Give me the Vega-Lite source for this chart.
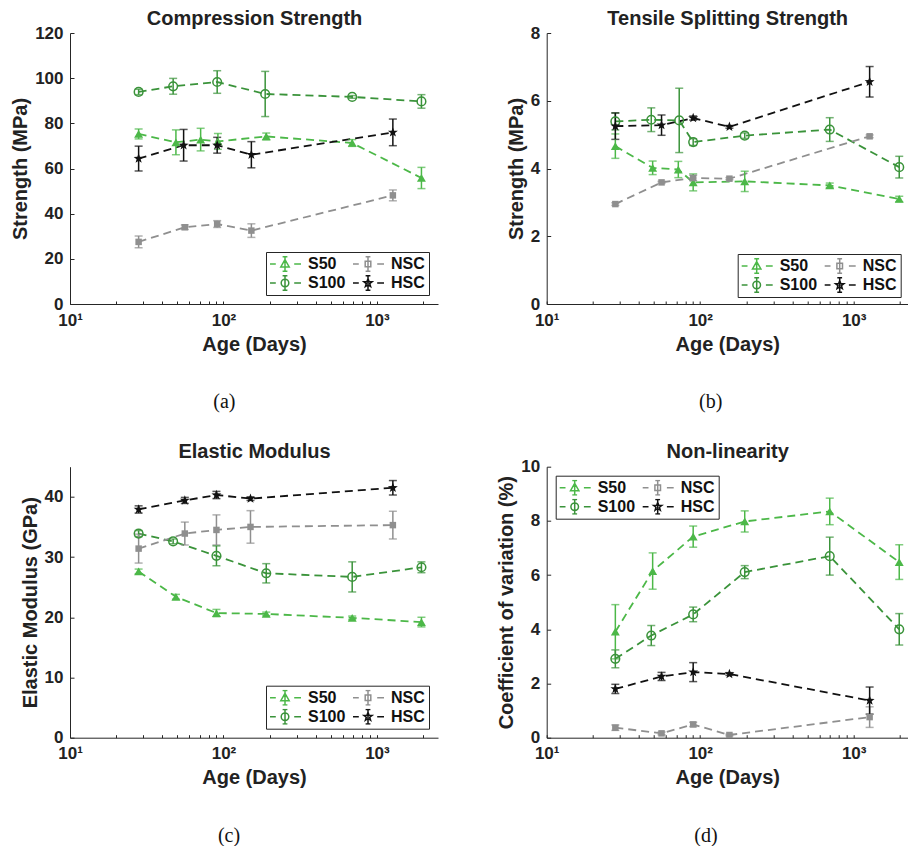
{
  "$schema": "https://vega.github.io/schema/vega-lite/v6.json",
  "padding": {"left": 10, "top": 8, "right": 0, "bottom": 0},
  "columns": 2,
  "spacing": {"row": 162.7, "column": 108.7},
  "bounds": "flush",
  "datasets": {
    "comp": [
      {"s": "S50", "t": 28, "v": 75.3, "e": 2.2}, {"s": "S50", "t": 49, "v": 71.6, "e": 5.5}, {"s": "S50", "t": 71, "v": 72.8, "e": 5.0}, {"s": "S50", "t": 92, "v": 72.0, "e": 3.5}, {"s": "S50", "t": 190, "v": 74.2, "e": 1.5}, {"s": "S50", "t": 690, "v": 71.3, "e": 1.5}, {"s": "S50", "t": 1950, "v": 55.8, "e": 4.7},
      {"s": "S100", "t": 28, "v": 93.9, "e": 1.2}, {"s": "S100", "t": 47, "v": 96.4, "e": 3.5}, {"s": "S100", "t": 91, "v": 98.3, "e": 5.0}, {"s": "S100", "t": 187, "v": 93.0, "e": 10.0}, {"s": "S100", "t": 690, "v": 91.7, "e": 0.6}, {"s": "S100", "t": 1950, "v": 89.7, "e": 3.0},
      {"s": "NSC", "t": 28, "v": 27.5, "e": 2.6}, {"s": "NSC", "t": 56, "v": 34.0, "e": 1.0}, {"s": "NSC", "t": 91, "v": 35.4, "e": 1.5}, {"s": "NSC", "t": 152, "v": 32.5, "e": 3.0}, {"s": "NSC", "t": 1270, "v": 48.1, "e": 2.4},
      {"s": "HSC", "t": 28, "v": 64.4, "e": 5.5}, {"s": "HSC", "t": 55, "v": 70.3, "e": 7.0}, {"s": "HSC", "t": 91, "v": 70.3, "e": 3.5}, {"s": "HSC", "t": 152, "v": 66.1, "e": 5.8}, {"s": "HSC", "t": 1270, "v": 76.0, "e": 5.9}
    ],
    "tens": [
      {"s": "S50", "t": 28, "v": 4.66, "e": 0.36}, {"s": "S50", "t": 49, "v": 4.02, "e": 0.2}, {"s": "S50", "t": 72, "v": 3.97, "e": 0.24}, {"s": "S50", "t": 90, "v": 3.59, "e": 0.25}, {"s": "S50", "t": 195, "v": 3.62, "e": 0.3}, {"s": "S50", "t": 698, "v": 3.5, "e": 0.07}, {"s": "S50", "t": 1980, "v": 3.1, "e": 0.08},
      {"s": "S100", "t": 28, "v": 5.39, "e": 0.25}, {"s": "S100", "t": 48, "v": 5.44, "e": 0.35}, {"s": "S100", "t": 73, "v": 5.42, "e": 0.95}, {"s": "S100", "t": 90, "v": 4.78, "e": 0.1}, {"s": "S100", "t": 195, "v": 4.97, "e": 0.08}, {"s": "S100", "t": 698, "v": 5.15, "e": 0.35}, {"s": "S100", "t": 1980, "v": 4.04, "e": 0.32},
      {"s": "NSC", "t": 28, "v": 2.95, "e": 0.04}, {"s": "NSC", "t": 56, "v": 3.59, "e": 0.03}, {"s": "NSC", "t": 90, "v": 3.72, "e": 0.08}, {"s": "NSC", "t": 155, "v": 3.7, "e": 0.03}, {"s": "NSC", "t": 1270, "v": 4.95, "e": 0.04},
      {"s": "HSC", "t": 28, "v": 5.25, "e": 0.39}, {"s": "HSC", "t": 56, "v": 5.28, "e": 0.3}, {"s": "HSC", "t": 90, "v": 5.49, "e": 0.06}, {"s": "HSC", "t": 155, "v": 5.23, "e": 0.04}, {"s": "HSC", "t": 1270, "v": 6.56, "e": 0.45}
    ],
    "elas": [
      {"s": "S50", "t": 28, "v": 27.6, "e": 0.4}, {"s": "S50", "t": 49, "v": 23.4, "e": 0.4}, {"s": "S50", "t": 90, "v": 20.7, "e": 0.6}, {"s": "S50", "t": 190, "v": 20.55, "e": 0.3}, {"s": "S50", "t": 690, "v": 19.9, "e": 0.3}, {"s": "S50", "t": 1950, "v": 19.2, "e": 0.8},
      {"s": "S100", "t": 28, "v": 33.9, "e": 0.5}, {"s": "S100", "t": 47, "v": 32.6, "e": 0.4}, {"s": "S100", "t": 90, "v": 30.2, "e": 1.65}, {"s": "S100", "t": 190, "v": 27.3, "e": 1.6}, {"s": "S100", "t": 690, "v": 26.7, "e": 2.5}, {"s": "S100", "t": 1950, "v": 28.3, "e": 0.9},
      {"s": "NSC", "t": 28, "v": 31.4, "e": 2.4}, {"s": "NSC", "t": 56, "v": 33.9, "e": 1.9}, {"s": "NSC", "t": 90, "v": 34.5, "e": 2.5}, {"s": "NSC", "t": 150, "v": 35.0, "e": 2.7}, {"s": "NSC", "t": 1270, "v": 35.3, "e": 2.3},
      {"s": "HSC", "t": 28, "v": 37.9, "e": 0.6}, {"s": "HSC", "t": 56, "v": 39.4, "e": 0.5}, {"s": "HSC", "t": 90, "v": 40.3, "e": 0.6}, {"s": "HSC", "t": 150, "v": 39.7, "e": 0.3}, {"s": "HSC", "t": 1270, "v": 41.5, "e": 1.2}
    ],
    "nonl": [
      {"s": "S50", "t": 28, "v": 3.91, "e": 1.0}, {"s": "S50", "t": 49, "v": 6.15, "e": 0.67}, {"s": "S50", "t": 90, "v": 7.42, "e": 0.39}, {"s": "S50", "t": 195, "v": 7.98, "e": 0.39}, {"s": "S50", "t": 698, "v": 8.35, "e": 0.49}, {"s": "S50", "t": 1980, "v": 6.48, "e": 0.64},
      {"s": "S100", "t": 28, "v": 2.91, "e": 0.33}, {"s": "S100", "t": 48, "v": 3.77, "e": 0.37}, {"s": "S100", "t": 90, "v": 4.55, "e": 0.27}, {"s": "S100", "t": 195, "v": 6.11, "e": 0.24}, {"s": "S100", "t": 698, "v": 6.7, "e": 0.7}, {"s": "S100", "t": 1980, "v": 4.0, "e": 0.58},
      {"s": "NSC", "t": 28, "v": 0.37, "e": 0.1}, {"s": "NSC", "t": 56, "v": 0.16, "e": 0.05}, {"s": "NSC", "t": 90, "v": 0.49, "e": 0.08}, {"s": "NSC", "t": 155, "v": 0.1, "e": 0.03}, {"s": "NSC", "t": 1270, "v": 0.76, "e": 0.38},
      {"s": "HSC", "t": 28, "v": 1.8, "e": 0.17}, {"s": "HSC", "t": 56, "v": 2.26, "e": 0.15}, {"s": "HSC", "t": 90, "v": 2.42, "e": 0.35}, {"s": "HSC", "t": 155, "v": 2.35, "e": 0.05}, {"s": "HSC", "t": 1270, "v": 1.37, "e": 0.5}
    ]
  },
  "concat": [
    {
      "width": 368, "height": 271,
      "title": {"text": "(a)", "orient": "bottom", "offset": 38},
      "resolve": {"scale": {"x": "independent"}},
      "layer": [
        {
          "data": {"name": "comp"},
          "encoding": {
            "x": {"field": "t", "type": "quantitative", "scale": {"type": "log", "domain": [10, 2500], "nice": false}, "axis": {"orient": "bottom", "title": "Age (Days)", "values": [10,20,30,40,50,60,70,80,90,100,200,300,400,500,600,700,800,900,1000,2000], "labelExpr": "datum.value == 10 ? '10¹' : datum.value == 100 ? '10²' : datum.value == 1000 ? '10³' : ''"}},
            "y": {"field": "v", "type": "quantitative", "scale": {"domain": [0, 120], "nice": false, "zero": false}, "axis": {"title": "Strength (MPa)", "values": [0,20,40,60,80,100,120]}},
            "color": {"field": "s", "type": "nominal", "scale": {"domain": ["S50","S100","NSC","HSC"], "range": ["#4cb848","#3a933a","#8f8f8f","#111111"]}, "legend": null}
          },
          "layer": [
            {"mark": {"type": "line", "strokeDash": [8, 5], "strokeWidth": 1.8}},
            {"mark": {"type": "errorbar", "thickness": 1.5, "ticks": {"size": 8, "thickness": 1.5}}, "encoding": {"yError": {"field": "e"}}},
            {"transform": [{"filter": "datum.s == 'S50'"}], "mark": {"type": "point", "shape": "triangle-up", "filled": true, "size": 80, "opacity": 1}},
            {"transform": [{"filter": "datum.s == 'S100'"}], "mark": {"type": "point", "shape": "circle", "filled": false, "size": 75, "strokeWidth": 1.5, "opacity": 1}},
            {"transform": [{"filter": "datum.s == 'NSC'"}], "mark": {"type": "point", "shape": "square", "filled": true, "size": 42, "opacity": 1}},
            {"transform": [{"filter": "datum.s == 'HSC'"}], "mark": {"type": "point", "shape": "M0,-1.1L0.265,-0.364L1.046,-0.34L0.428,0.139L0.647,0.89L0,0.45L-0.647,0.89L-0.428,0.139L-1.046,-0.34L-0.265,-0.364Z", "filled": true, "size": 90, "opacity": 1}},
            {
              "mark": {"type": "point", "opacity": 0, "size": 64, "filled": true},
              "encoding": {
                "shape": {"field": "s", "type": "nominal", "scale": {"domain": ["S50","S100","NSC","HSC"], "range": [
                  "M-4,0L-2.3,0M2.3,0L4,0M0,-1.8L0,1.8M-0.6,-1.8L0.6,-1.8M-0.6,1.8L0.6,1.8M0,-1.1L1.05,0.75L-1.05,0.75Z",
                  "M-4,0L-2.3,0M2.3,0L4,0M0,-1.8L0,1.8M-0.6,-1.8L0.6,-1.8M-0.6,1.8L0.6,1.8M0.95,0A0.95,0.95,0,1,1,-0.95,0A0.95,0.95,0,1,1,0.95,0Z",
                  "M-4,0L-2.3,0M2.3,0L4,0M0,-1.8L0,1.8M-0.6,-1.8L0.6,-1.8M-0.6,1.8L0.6,1.8M-0.7,-0.7L0.7,-0.7L0.7,0.7L-0.7,0.7Z",
                  "M-4,0L-2.3,0M2.3,0L4,0M0,-1.8L0,1.8M-0.6,-1.8L0.6,-1.8M-0.6,1.8L0.6,1.8M0,-1.1L0.265,-0.364L1.046,-0.34L0.428,0.139L0.647,0.89L0,0.45L-0.647,0.89L-0.428,0.139L-1.046,-0.34L-0.265,-0.364Z"]},
                  "legend": {"title": null, "orient": "bottom-right", "offset": 9, "columns": 2}},
                "stroke": {"field": "s", "type": "nominal", "scale": {"domain": ["S50","S100","NSC","HSC"], "range": ["#4cb848","#3a933a","#8f8f8f","#111111"]}, "legend": {"title": null, "orient": "bottom-right", "offset": 9, "columns": 2}},
                "fill": {"field": "s", "type": "nominal", "scale": {"domain": ["S50","S100","NSC","HSC"], "range": ["#4cb848","transparent","#8f8f8f","#111111"]}, "legend": {"title": null, "orient": "bottom-right", "offset": 9, "columns": 2}}
              }
            }
          ]
        },
        {
          "data": {"values": [{"k": 0}]},
          "mark": {"type": "point", "opacity": 0},
          "encoding": {"x": {"field": "k", "type": "quantitative", "scale": {"domain": [0, 1]}, "axis": {"orient": "top", "title": "Compression Strength", "labels": false, "ticks": false, "domain": false, "titlePadding": 5, "maxExtent": 0}}}
        }
      ]
    },
    {
      "width": 361, "height": 271,
      "title": {"text": "(b)", "orient": "bottom", "offset": 38},
      "resolve": {"scale": {"x": "independent"}},
      "layer": [
        {
          "data": {"name": "tens"},
          "encoding": {
            "x": {"field": "t", "type": "quantitative", "scale": {"type": "log", "domain": [10, 2248], "nice": false}, "axis": {"orient": "bottom", "title": "Age (Days)", "values": [10,20,30,40,50,60,70,80,90,100,200,300,400,500,600,700,800,900,1000,2000], "labelExpr": "datum.value == 10 ? '10¹' : datum.value == 100 ? '10²' : datum.value == 1000 ? '10³' : ''"}},
            "y": {"field": "v", "type": "quantitative", "scale": {"domain": [0, 8], "nice": false, "zero": false}, "axis": {"title": "Strength (MPa)", "values": [0,2,4,6,8]}},
            "color": {"field": "s", "type": "nominal", "scale": {"domain": ["S50","S100","NSC","HSC"], "range": ["#4cb848","#3a933a","#8f8f8f","#111111"]}, "legend": null}
          },
          "layer": [
            {"mark": {"type": "line", "strokeDash": [8, 5], "strokeWidth": 1.8}},
            {"mark": {"type": "errorbar", "thickness": 1.5, "ticks": {"size": 8, "thickness": 1.5}}, "encoding": {"yError": {"field": "e"}}},
            {"transform": [{"filter": "datum.s == 'S50'"}], "mark": {"type": "point", "shape": "triangle-up", "filled": true, "size": 80, "opacity": 1}},
            {"transform": [{"filter": "datum.s == 'S100'"}], "mark": {"type": "point", "shape": "circle", "filled": false, "size": 75, "strokeWidth": 1.5, "opacity": 1}},
            {"transform": [{"filter": "datum.s == 'NSC'"}], "mark": {"type": "point", "shape": "square", "filled": true, "size": 42, "opacity": 1}},
            {"transform": [{"filter": "datum.s == 'HSC'"}], "mark": {"type": "point", "shape": "M0,-1.1L0.265,-0.364L1.046,-0.34L0.428,0.139L0.647,0.89L0,0.45L-0.647,0.89L-0.428,0.139L-1.046,-0.34L-0.265,-0.364Z", "filled": true, "size": 90, "opacity": 1}},
            {
              "mark": {"type": "point", "opacity": 0, "size": 64, "filled": true},
              "encoding": {
                "shape": {"field": "s", "type": "nominal", "scale": {"domain": ["S50","S100","NSC","HSC"], "range": [
                  "M-4,0L-2.3,0M2.3,0L4,0M0,-1.8L0,1.8M-0.6,-1.8L0.6,-1.8M-0.6,1.8L0.6,1.8M0,-1.1L1.05,0.75L-1.05,0.75Z",
                  "M-4,0L-2.3,0M2.3,0L4,0M0,-1.8L0,1.8M-0.6,-1.8L0.6,-1.8M-0.6,1.8L0.6,1.8M0.95,0A0.95,0.95,0,1,1,-0.95,0A0.95,0.95,0,1,1,0.95,0Z",
                  "M-4,0L-2.3,0M2.3,0L4,0M0,-1.8L0,1.8M-0.6,-1.8L0.6,-1.8M-0.6,1.8L0.6,1.8M-0.7,-0.7L0.7,-0.7L0.7,0.7L-0.7,0.7Z",
                  "M-4,0L-2.3,0M2.3,0L4,0M0,-1.8L0,1.8M-0.6,-1.8L0.6,-1.8M-0.6,1.8L0.6,1.8M0,-1.1L0.265,-0.364L1.046,-0.34L0.428,0.139L0.647,0.89L0,0.45L-0.647,0.89L-0.428,0.139L-1.046,-0.34L-0.265,-0.364Z"]},
                  "legend": {"title": null, "orient": "bottom-right", "offset": 7, "columns": 2}},
                "stroke": {"field": "s", "type": "nominal", "scale": {"domain": ["S50","S100","NSC","HSC"], "range": ["#4cb848","#3a933a","#8f8f8f","#111111"]}, "legend": {"title": null, "orient": "bottom-right", "offset": 7, "columns": 2}},
                "fill": {"field": "s", "type": "nominal", "scale": {"domain": ["S50","S100","NSC","HSC"], "range": ["#4cb848","transparent","#8f8f8f","#111111"]}, "legend": {"title": null, "orient": "bottom-right", "offset": 7, "columns": 2}}
              }
            }
          ]
        },
        {
          "data": {"values": [{"k": 0}]},
          "mark": {"type": "point", "opacity": 0},
          "encoding": {"x": {"field": "k", "type": "quantitative", "scale": {"domain": [0, 1]}, "axis": {"orient": "top", "title": "Tensile Splitting Strength", "labels": false, "ticks": false, "domain": false, "titlePadding": 5, "maxExtent": 0}}}
        }
      ]
    },
    {
      "width": 368, "height": 271,
      "title": {"text": "(c)", "orient": "bottom", "offset": 38},
      "resolve": {"scale": {"x": "independent"}},
      "layer": [
        {
          "data": {"name": "elas"},
          "encoding": {
            "x": {"field": "t", "type": "quantitative", "scale": {"type": "log", "domain": [10, 2500], "nice": false}, "axis": {"orient": "bottom", "title": "Age (Days)", "values": [10,20,30,40,50,60,70,80,90,100,200,300,400,500,600,700,800,900,1000,2000], "labelExpr": "datum.value == 10 ? '10¹' : datum.value == 100 ? '10²' : datum.value == 1000 ? '10³' : ''"}},
            "y": {"field": "v", "type": "quantitative", "scale": {"domain": [0, 45], "nice": false, "zero": false}, "axis": {"title": "Elastic Modulus (GPa)", "values": [0,10,20,30,40]}},
            "color": {"field": "s", "type": "nominal", "scale": {"domain": ["S50","S100","NSC","HSC"], "range": ["#4cb848","#3a933a","#8f8f8f","#111111"]}, "legend": null}
          },
          "layer": [
            {"mark": {"type": "line", "strokeDash": [8, 5], "strokeWidth": 1.8}},
            {"mark": {"type": "errorbar", "thickness": 1.5, "ticks": {"size": 8, "thickness": 1.5}}, "encoding": {"yError": {"field": "e"}}},
            {"transform": [{"filter": "datum.s == 'S50'"}], "mark": {"type": "point", "shape": "triangle-up", "filled": true, "size": 80, "opacity": 1}},
            {"transform": [{"filter": "datum.s == 'S100'"}], "mark": {"type": "point", "shape": "circle", "filled": false, "size": 75, "strokeWidth": 1.5, "opacity": 1}},
            {"transform": [{"filter": "datum.s == 'NSC'"}], "mark": {"type": "point", "shape": "square", "filled": true, "size": 42, "opacity": 1}},
            {"transform": [{"filter": "datum.s == 'HSC'"}], "mark": {"type": "point", "shape": "M0,-1.1L0.265,-0.364L1.046,-0.34L0.428,0.139L0.647,0.89L0,0.45L-0.647,0.89L-0.428,0.139L-1.046,-0.34L-0.265,-0.364Z", "filled": true, "size": 90, "opacity": 1}},
            {
              "mark": {"type": "point", "opacity": 0, "size": 64, "filled": true},
              "encoding": {
                "shape": {"field": "s", "type": "nominal", "scale": {"domain": ["S50","S100","NSC","HSC"], "range": [
                  "M-4,0L-2.3,0M2.3,0L4,0M0,-1.8L0,1.8M-0.6,-1.8L0.6,-1.8M-0.6,1.8L0.6,1.8M0,-1.1L1.05,0.75L-1.05,0.75Z",
                  "M-4,0L-2.3,0M2.3,0L4,0M0,-1.8L0,1.8M-0.6,-1.8L0.6,-1.8M-0.6,1.8L0.6,1.8M0.95,0A0.95,0.95,0,1,1,-0.95,0A0.95,0.95,0,1,1,0.95,0Z",
                  "M-4,0L-2.3,0M2.3,0L4,0M0,-1.8L0,1.8M-0.6,-1.8L0.6,-1.8M-0.6,1.8L0.6,1.8M-0.7,-0.7L0.7,-0.7L0.7,0.7L-0.7,0.7Z",
                  "M-4,0L-2.3,0M2.3,0L4,0M0,-1.8L0,1.8M-0.6,-1.8L0.6,-1.8M-0.6,1.8L0.6,1.8M0,-1.1L0.265,-0.364L1.046,-0.34L0.428,0.139L0.647,0.89L0,0.45L-0.647,0.89L-0.428,0.139L-1.046,-0.34L-0.265,-0.364Z"]},
                  "legend": {"title": null, "orient": "bottom-right", "offset": 9, "columns": 2}},
                "stroke": {"field": "s", "type": "nominal", "scale": {"domain": ["S50","S100","NSC","HSC"], "range": ["#4cb848","#3a933a","#8f8f8f","#111111"]}, "legend": {"title": null, "orient": "bottom-right", "offset": 9, "columns": 2}},
                "fill": {"field": "s", "type": "nominal", "scale": {"domain": ["S50","S100","NSC","HSC"], "range": ["#4cb848","transparent","#8f8f8f","#111111"]}, "legend": {"title": null, "orient": "bottom-right", "offset": 9, "columns": 2}}
              }
            }
          ]
        },
        {
          "data": {"values": [{"k": 0}]},
          "mark": {"type": "point", "opacity": 0},
          "encoding": {"x": {"field": "k", "type": "quantitative", "scale": {"domain": [0, 1]}, "axis": {"orient": "top", "title": "Elastic Modulus", "labels": false, "ticks": false, "domain": false, "titlePadding": 5, "maxExtent": 0}}}
        }
      ]
    },
    {
      "width": 361, "height": 271,
      "title": {"text": "(d)", "orient": "bottom", "offset": 38},
      "resolve": {"scale": {"x": "independent"}},
      "layer": [
        {
          "data": {"name": "nonl"},
          "encoding": {
            "x": {"field": "t", "type": "quantitative", "scale": {"type": "log", "domain": [10, 2248], "nice": false}, "axis": {"orient": "bottom", "title": "Age (Days)", "values": [10,20,30,40,50,60,70,80,90,100,200,300,400,500,600,700,800,900,1000,2000], "labelExpr": "datum.value == 10 ? '10¹' : datum.value == 100 ? '10²' : datum.value == 1000 ? '10³' : ''"}},
            "y": {"field": "v", "type": "quantitative", "scale": {"domain": [0, 10], "nice": false, "zero": false}, "axis": {"title": "Coefficient of variation (%)", "values": [0,2,4,6,8,10]}},
            "color": {"field": "s", "type": "nominal", "scale": {"domain": ["S50","S100","NSC","HSC"], "range": ["#4cb848","#3a933a","#8f8f8f","#111111"]}, "legend": null}
          },
          "layer": [
            {"mark": {"type": "line", "strokeDash": [8, 5], "strokeWidth": 1.8}},
            {"mark": {"type": "errorbar", "thickness": 1.5, "ticks": {"size": 8, "thickness": 1.5}}, "encoding": {"yError": {"field": "e"}}},
            {"transform": [{"filter": "datum.s == 'S50'"}], "mark": {"type": "point", "shape": "triangle-up", "filled": true, "size": 80, "opacity": 1}},
            {"transform": [{"filter": "datum.s == 'S100'"}], "mark": {"type": "point", "shape": "circle", "filled": false, "size": 75, "strokeWidth": 1.5, "opacity": 1}},
            {"transform": [{"filter": "datum.s == 'NSC'"}], "mark": {"type": "point", "shape": "square", "filled": true, "size": 42, "opacity": 1}},
            {"transform": [{"filter": "datum.s == 'HSC'"}], "mark": {"type": "point", "shape": "M0,-1.1L0.265,-0.364L1.046,-0.34L0.428,0.139L0.647,0.89L0,0.45L-0.647,0.89L-0.428,0.139L-1.046,-0.34L-0.265,-0.364Z", "filled": true, "size": 90, "opacity": 1}},
            {
              "mark": {"type": "point", "opacity": 0, "size": 64, "filled": true},
              "encoding": {
                "shape": {"field": "s", "type": "nominal", "scale": {"domain": ["S50","S100","NSC","HSC"], "range": [
                  "M-4,0L-2.3,0M2.3,0L4,0M0,-1.8L0,1.8M-0.6,-1.8L0.6,-1.8M-0.6,1.8L0.6,1.8M0,-1.1L1.05,0.75L-1.05,0.75Z",
                  "M-4,0L-2.3,0M2.3,0L4,0M0,-1.8L0,1.8M-0.6,-1.8L0.6,-1.8M-0.6,1.8L0.6,1.8M0.95,0A0.95,0.95,0,1,1,-0.95,0A0.95,0.95,0,1,1,0.95,0Z",
                  "M-4,0L-2.3,0M2.3,0L4,0M0,-1.8L0,1.8M-0.6,-1.8L0.6,-1.8M-0.6,1.8L0.6,1.8M-0.7,-0.7L0.7,-0.7L0.7,0.7L-0.7,0.7Z",
                  "M-4,0L-2.3,0M2.3,0L4,0M0,-1.8L0,1.8M-0.6,-1.8L0.6,-1.8M-0.6,1.8L0.6,1.8M0,-1.1L0.265,-0.364L1.046,-0.34L0.428,0.139L0.647,0.89L0,0.45L-0.647,0.89L-0.428,0.139L-1.046,-0.34L-0.265,-0.364Z"]},
                  "legend": {"title": null, "orient": "top-left", "offset": 9, "columns": 2}},
                "stroke": {"field": "s", "type": "nominal", "scale": {"domain": ["S50","S100","NSC","HSC"], "range": ["#4cb848","#3a933a","#8f8f8f","#111111"]}, "legend": {"title": null, "orient": "top-left", "offset": 9, "columns": 2}},
                "fill": {"field": "s", "type": "nominal", "scale": {"domain": ["S50","S100","NSC","HSC"], "range": ["#4cb848","transparent","#8f8f8f","#111111"]}, "legend": {"title": null, "orient": "top-left", "offset": 9, "columns": 2}}
              }
            }
          ]
        },
        {
          "data": {"values": [{"k": 0}]},
          "mark": {"type": "point", "opacity": 0},
          "encoding": {"x": {"field": "k", "type": "quantitative", "scale": {"domain": [0, 1]}, "axis": {"orient": "top", "title": "Non-linearity", "labels": false, "ticks": false, "domain": false, "titlePadding": 5, "maxExtent": 0}}}
        }
      ]
    }
  ],
  "config": {
    "font": "Liberation Sans",
    "background": "white",
    "view": {"stroke": null},
    "axis": {
      "grid": false, "domainColor": "#262626", "domainWidth": 1, "tickColor": "#262626", "tickWidth": 1,
      "labelFont": "Liberation Sans", "labelFontWeight": "bold", "labelFontSize": 17, "labelColor": "#222222",
      "titleFont": "Liberation Sans", "titleFontWeight": "bold", "titleFontSize": 20, "titleColor": "#222222",
      "minExtent": 0, "labelOverlap": false, "labelFlush": false
    },
    "axisX": {"tickSize": -3, "labelPadding": 11, "titlePadding": 6},
    "axisY": {"tickSize": -4, "labelPadding": 11, "titlePadding": 4},
    "legend": {
      "strokeColor": "#262626", "fillColor": "white", "padding": 4, "cornerRadius": 0,
      "labelFont": "Liberation Sans", "labelFontWeight": "bold", "labelFontSize": 16, "labelColor": "#111111",
      "symbolSize": 64, "symbolStrokeWidth": 1.5, "symbolOffset": 7, "labelOffset": 15, "clipHeight": 16,
      "columnPadding": 7, "rowPadding": 3
    },
    "title": {"font": "Liberation Serif", "fontSize": 20, "fontWeight": "normal", "color": "#111111", "anchor": "middle", "frame": "bounds"}
  }
}
